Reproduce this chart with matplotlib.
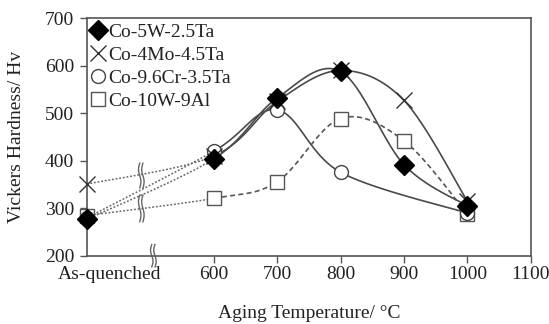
import numpy as np
import matplotlib
matplotlib.use("Agg")
import matplotlib.pyplot as plt
import matplotlib.transforms as mtransforms
from matplotlib.lines import Line2D

plt.rcParams['font.family'] = ['Liberation Serif', 'DejaVu Serif']

# ---- data ----
temps = [400, 600, 700, 800, 900, 1000]   # 400 stands for "As-quenched"
xtick_pos = [400, 600, 700, 800, 900, 1000, 1100]
xtick_labels = ['As-quenched', '600', '700', '800', '900', '1000', '1100']
yticks = [200, 300, 400, 500, 600, 700]

co5w_x = [400, 600, 700, 800, 900, 1000]
co5w_y = [277, 404, 532, 588, 392, 305]
co4mo_x = [400, 600, 700, 800, 900, 1000]
co4mo_y = [351, 410, 525, 590, 527, 315]
co96cr_x = [400, 600, 700, 800, 1000]
co96cr_y = [280, 420, 507, 376, 290]
co10w_x = [400, 600, 700, 800, 900, 1000]
co10w_y = [285, 321, 356, 489, 442, 288]

labels = ['Co-5W-2.5Ta', 'Co-4Mo-4.5Ta', 'Co-9.6Cr-3.5Ta', 'Co-10W-9Al']

XMIN, XMAX, YMIN, YMAX = 400, 1100, 200, 700

fig = plt.figure(figsize=(5.49, 3.24), dpi=100)
ax = fig.add_axes([0.158, 0.21, 0.809, 0.734])
ax.set_xlim(XMIN, XMAX)
ax.set_ylim(YMIN, YMAX)

W_PX, H_PX = 444.0, 238.0


def to_s(x, y):
    return ((np.asarray(x, float) - XMIN) / (XMAX - XMIN) * W_PX,
            (np.asarray(y, float) - YMIN) / (YMAX - YMIN) * H_PX)


def from_s(sx, sy):
    return sx / W_PX * (XMAX - XMIN) + XMIN, sy / H_PX * (YMAX - YMIN) + YMIN


def smooth(xs, ys, n=40):
    """Excel-like smoothed line (Bezier with Catmull-Rom control points) in screen space."""
    sx, sy = to_s(xs, ys)
    P = np.column_stack([sx, sy])
    segs = []
    for i in range(len(P) - 1):
        p0 = P[i - 1] if i > 0 else P[i]
        p1, p2 = P[i], P[i + 1]
        p3 = P[i + 2] if i + 2 < len(P) else P[i + 1]
        c1 = p1 + (p2 - p0) / 6.0
        c2 = p2 - (p3 - p1) / 6.0
        t = np.linspace(0, 1, n)[:, None]
        B = ((1 - t) ** 3) * p1 + 3 * ((1 - t) ** 2) * t * c1 + 3 * (1 - t) * t ** 2 * c2 + t ** 3 * p2
        bx, by = from_s(B[:, 0], B[:, 1])
        segs.append((bx, by))
    return segs


LC = '#4a4a4a'
series = [
    (co5w_x, co5w_y, dict(marker='D', ms=10, mfc='black', mec='black'), '-'),
    (co4mo_x, co4mo_y, dict(marker='x', ms=11, mec='#333333', mew=1.0), '-'),
    (co96cr_x, co96cr_y, dict(marker='o', ms=10, mfc='white', mec='#444444', mew=1.0), '-'),
    (co10w_x, co10w_y, dict(marker='s', ms=10, mfc='white', mec='#555555', mew=1.0), '--'),
]

for xs, ys, mk, ls in series:
    segs = smooth(xs, ys)
    bx, by = segs[0]
    ax.plot(bx, by, color='#666666', lw=1.1, ls=(0, (1.2, 1.2)), zorder=2)
    for bx, by in segs[1:]:
        if ls == '--':
            ax.plot(bx, by, color='#555555', lw=1.2, ls=(0, (3, 2)), zorder=2)
        else:
            ax.plot(bx, by, color=LC, lw=1.2, ls='-', zorder=2)

# markers drawn after lines; order so diamonds sit on top
for idx in [3, 2, 1, 0]:
    xs, ys, mk, ls = series[idx]
    ax.plot(xs, ys, ls='none', zorder=3 + (4 - idx), clip_on=False, **mk)


# break symbols
def squiggle(xc, y0, y1, clip=True):
    t = np.linspace(0, 1, 40)
    amp = 1.2 * (XMAX - XMIN) / W_PX
    sep = 3.2 * (XMAX - XMIN) / W_PX
    for dx in (-sep / 2, sep / 2):
        x = xc + dx + amp * np.sin(2 * np.pi * t)
        y = y0 + (y1 - y0) * t
        ax.plot(x, y, color='#666666', lw=1.0, zorder=4, clip_on=clip)

squiggle(486, 343, 395)
squiggle(486, 272, 328)
squiggle(505, 177, 224, clip=False)

# axes styling
for s in ax.spines.values():
    s.set_color('#555555')
    s.set_linewidth(1.2)
ax.set_xticks(xtick_pos)
ax.set_xticklabels(xtick_labels)
ax.set_yticks(yticks)
ax.tick_params(direction='out', length=5, width=1.0, color='#555555',
               labelsize=14, pad=2, labelcolor='#222222')
ax.tick_params(axis='y', pad=4)
# shift the "As-quenched" label to the right, as in the original
aq = ax.get_xticklabels()[0]
aq.set_transform(aq.get_transform() + mtransforms.ScaledTranslation(0.23, 0, fig.dpi_scale_trans))
ax.xaxis.get_major_ticks()[0].tick1line.set_visible(False)

ax.set_xlabel('Aging Temperature/ °C', fontsize=14, labelpad=16, color='#222222')
ax.set_ylabel('Vickers Hardness/ Hv', fontsize=14, labelpad=14, color='#222222')

handles = [Line2D([], [], ls='none', **s[2]) for s in series]
ax.legend(handles, labels, loc='upper left', frameon=False, fontsize=14,
          handlelength=0.7, handletextpad=0.15, labelspacing=0.28,
          borderaxespad=0.1, borderpad=0.15, labelcolor='#222222')

fig.savefig('out.png', dpi=100)
